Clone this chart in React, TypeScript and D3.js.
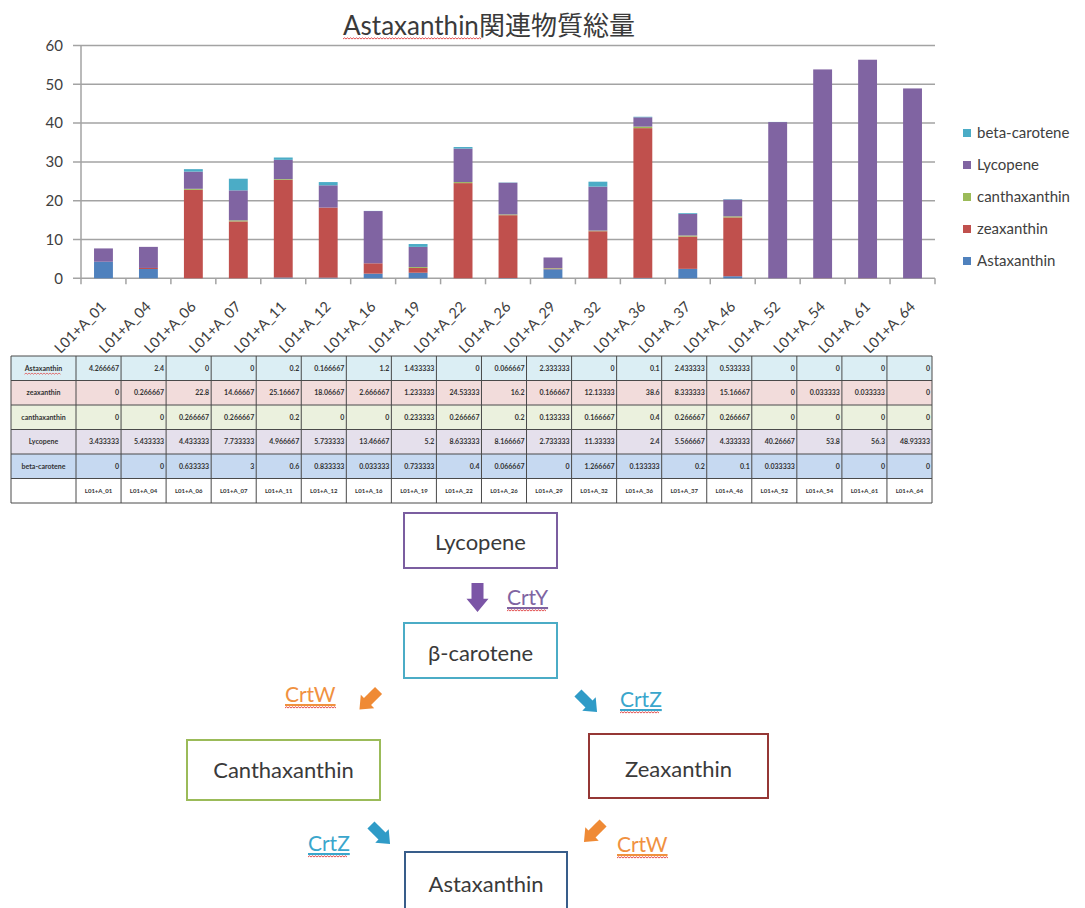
import React from "react";
import * as d3 from "d3";

// Sample (strain) names shown along the x axis and in the table footer row
const samples = [
  "L01+A_01", "L01+A_04", "L01+A_06", "L01+A_07", "L01+A_11", "L01+A_12", "L01+A_16",
  "L01+A_19", "L01+A_22", "L01+A_26", "L01+A_29", "L01+A_32", "L01+A_36", "L01+A_37",
  "L01+A_46", "L01+A_52", "L01+A_54", "L01+A_61", "L01+A_64",
];

// Measured carotenoid amounts per sample
const astaxanthin = [4.266667, 2.4, 0, 0, 0.2, 0.166667, 1.2, 1.433333, 0, 0.066667, 2.333333, 0, 0.1, 2.433333, 0.533333, 0, 0, 0, 0];
const zeaxanthin = [0, 0.266667, 22.8, 14.66667, 25.16667, 18.06667, 2.666667, 1.233333, 24.53333, 16.2, 0.166667, 12.13333, 38.6, 8.333333, 15.16667, 0, 0.033333, 0.033333, 0];
const canthaxanthin = [0, 0, 0.266667, 0.266667, 0.2, 0, 0, 0.233333, 0.266667, 0.2, 0.133333, 0.166667, 0.4, 0.266667, 0.266667, 0, 0, 0, 0];
const lycopene = [3.433333, 5.433333, 4.433333, 7.733333, 4.966667, 5.733333, 13.46667, 5.2, 8.633333, 8.166667, 2.733333, 11.33333, 2.4, 5.566667, 4.333333, 40.26667, 53.8, 56.3, 48.93333];
const betaCarotene = [0, 0, 0.633333, 3, 0.6, 0.833333, 0.033333, 0.733333, 0.4, 0.066667, 0, 1.266667, 0.133333, 0.2, 0.1, 0.033333, 0, 0, 0];

// Series in stacking order (bottom to top)
const seriesNames = ["Astaxanthin", "zeaxanthin", "canthaxanthin", "Lycopene", "beta-carotene"];
const seriesValues = [astaxanthin, zeaxanthin, canthaxanthin, lycopene, betaCarotene];
const yTicks = [0, 10, 20, 30, 40, 50, 60];

// Biosynthesis pathway
const pathwayCompounds = ["Lycopene", "β-carotene", "Canthaxanthin", "Zeaxanthin", "Astaxanthin"];
const enzymes = ["CrtY", "CrtW", "CrtZ", "CrtZ", "CrtW"];

const titleText = "Astaxanthin関連物質総量";

// ---- styling ----
const FONT = "Lato, 'Noto Sans CJK JP', sans-serif";
const seriesColors = ["#4f81bd", "#c0504d", "#9bbb59", "#8064a2", "#4bacc6"];
const rowFills = ["#dbeef4", "#f2dcdb", "#ebf1de", "#e5e0ec", "#c6d9f1"];
const gridColor = "#a3a3a3";
const textColor = "#404040";

// ---- layout ----
const plot = { left: 81, right: 935, top: 45.5, bottom: 278.3 };
const table = { left: 11, headRight: 76, right: 932, top: 356, rowH: 24.5 };

const boxLayout = [
  { x: 404, y: 513, w: 153, h: 55, base: 550, stroke: "#7b5ea0" },
  { x: 404, y: 623, w: 153, h: 55, base: 661, stroke: "#4bacc6" },
  { x: 187, y: 740, w: 193, h: 60, base: 778, stroke: "#9bbb59" },
  { x: 589, y: 734, w: 179, h: 64, base: 777, stroke: "#953735" },
  { x: 405, y: 852, w: 162, h: 80, base: 892, stroke: "#385d8a" },
];
const arrowLayout = [
  { cx: 477.5, cy: 597.5, rot: 0, len: 29, shaft: 12, head: 22, color: "#7b55a6" },
  { cx: 369, cy: 700, rot: 45, len: 27, shaft: 10, head: 19, color: "#ef8a35" },
  { cx: 587.5, cy: 702.5, rot: -45, len: 27, shaft: 10, head: 19, color: "#2f9bc7" },
  { cx: 380.5, cy: 834.5, rot: -45, len: 27, shaft: 10, head: 19, color: "#2f9bc7" },
  { cx: 593.5, cy: 832.5, rot: 45, len: 27, shaft: 10, head: 19, color: "#ef8a35" },
];
const enzymeLayout = [
  { x: 507, y: 605, color: "#8064a2" },
  { x: 285, y: 702, color: "#f0913f" },
  { x: 620, y: 707, color: "#3aa6cc" },
  { x: 308, y: 851, color: "#3aa6cc" },
  { x: 617, y: 852, color: "#f0913f" },
];

// spell-check style wavy underline
function squiggle(x0: number, x1: number, y: number) {
  let d = `M${x0},${y}`;
  for (let x = x0; x + 3 <= x1; x += 3) d += " l1.5,-1.2 l1.5,1.2";
  return d;
}

// block arrow pointing down, centred on the origin
function blockArrow(len: number, shaft: number, head: number) {
  const h = len / 2;
  const headLen = head * 0.6;
  const s = shaft / 2;
  const hw = head / 2;
  return `M${-s},${-h} L${s},${-h} L${s},${h - headLen} L${hw},${h - headLen} L0,${h} L${-hw},${h - headLen} L${-s},${h - headLen} Z`;
}

export default function App() {
  const rows = samples.map((name, i) => {
    const r: Record<string, any> = { name };
    seriesNames.forEach((s, k) => (r[s] = seriesValues[k][i]));
    return r;
  });
  const stacked = d3.stack<any>().keys(seriesNames)(rows);

  const x = d3
    .scaleBand<string>()
    .domain(samples)
    .range([plot.left, plot.right])
    .paddingInner(0.58)
    .paddingOuter(0.29);
  const step = x.step();
  const y = d3.scaleLinear().domain([0, 60]).range([plot.bottom, plot.top]);

  const col = d3.scaleBand<string>().domain(samples).range([table.headRight, table.right]);
  const rowY = (k: number) => table.top + k * table.rowH;

  const legendItems = seriesNames.map((n, k) => ({ n, c: seriesColors[k] })).reverse();

  return (
    <svg
      width={1085}
      height={908}
      style={{ position: "absolute", left: 0, top: 0, background: "#fff" }}
      fontFamily={FONT}
    >
      <rect width={1085} height={908} fill="#fff" />

      {/* title */}
      <text x={343} y={35} fontSize={26} fill="#3a3a3a">
        {titleText}
      </text>
      <path d={squiggle(343, 482, 39)} fill="none" stroke="#e04040" strokeWidth={0.9} />

      {/* gridlines and y axis */}
      {yTicks.map((t) => (
        <g key={t}>
          <line x1={plot.left - 8} x2={plot.right} y1={y(t)} y2={y(t)} stroke={gridColor} strokeWidth={1.5} />
          <text x={63} y={y(t)} dy="0.35em" textAnchor="end" fontSize={15} fill={textColor}>
            {t}
          </text>
        </g>
      ))}
      <line x1={plot.left} x2={plot.left} y1={plot.top} y2={plot.bottom} stroke={gridColor} strokeWidth={1.5} />
      {d3.range(samples.length + 1).map((i) => (
        <line
          key={i}
          x1={plot.left + i * step}
          x2={plot.left + i * step}
          y1={plot.bottom}
          y2={plot.bottom + 6}
          stroke={gridColor}
          strokeWidth={1.5}
        />
      ))}

      {/* stacked bars */}
      {stacked.map((layer, k) => (
        <g key={layer.key} fill={seriesColors[k]}>
          {layer.map((d, i) => (
            <rect
              key={i}
              x={x(samples[i])}
              width={x.bandwidth()}
              y={y(d[1])}
              height={Math.max(0, y(d[0]) - y(d[1]))}
            />
          ))}
        </g>
      ))}

      {/* x labels */}
      {samples.map((s) => {
        const cx = (x(s) as number) + x.bandwidth() / 2;
        return (
          <text
            key={s}
            transform={`translate(${cx},${304}) rotate(-45)`}
            textAnchor="end"
            dy="0.35em"
            fontSize={14.5}
            fill={textColor}
          >
            {s}
          </text>
        );
      })}

      {/* legend */}
      {legendItems.map((it, i) => (
        <g key={it.n} transform={`translate(963,${133 + i * 32})`}>
          <rect x={0} y={-4} width={8} height={8} fill={it.c} />
          <text x={14} y={0} dy="0.35em" fontSize={15} fill={textColor}>
            {it.n}
          </text>
        </g>
      ))}

      {/* data table */}
      <g fontSize={7} fontWeight="bold" fill="#333">
        {seriesNames.map((n, k) => (
          <g key={n}>
            <rect x={table.left} y={rowY(k)} width={table.right - table.left} height={table.rowH} fill={rowFills[k]} />
            <text x={(table.left + table.headRight) / 2} y={rowY(k) + table.rowH / 2} dy="0.35em" textAnchor="middle">
              {n}
            </text>
            {seriesValues[k].map((v, i) => (
              <text
                key={i}
                x={(col(samples[i]) as number) + col.bandwidth() - 2}
                y={rowY(k) + table.rowH / 2}
                dy="0.35em"
                textAnchor="end"
              >
                {String(v)}
              </text>
            ))}
          </g>
        ))}
        {samples.map((s) => (
          <text
            key={s}
            x={(col(s) as number) + col.bandwidth() / 2}
            y={rowY(5) + table.rowH / 2}
            dy="0.35em"
            textAnchor="middle"
            fontSize={6}
          >
            {s}
          </text>
        ))}
        <path
          d={squiggle((table.left + table.headRight) / 2 - 19, (table.left + table.headRight) / 2 + 19, rowY(0) + table.rowH / 2 + 6)}
          fill="none"
          stroke="#e04040"
          strokeWidth={0.7}
        />
        {/* grid lines */}
        {d3.range(7).map((k) => (
          <line key={"h" + k} x1={table.left} x2={table.right} y1={rowY(k)} y2={rowY(k)} stroke="#4a4a4a" strokeWidth={1} />
        ))}
        <line x1={table.left} x2={table.left} y1={rowY(0)} y2={rowY(6)} stroke="#4a4a4a" strokeWidth={1} />
        {d3.range(samples.length + 1).map((i) => {
          const xx = table.headRight + i * col.step();
          return <line key={"v" + i} x1={xx} x2={xx} y1={rowY(0)} y2={rowY(6)} stroke="#4a4a4a" strokeWidth={1} />;
        })}
      </g>

      {/* pathway boxes */}
      {pathwayCompounds.map((c, i) => {
        const b = boxLayout[i];
        return (
          <g key={c}>
            <rect x={b.x} y={b.y} width={b.w} height={b.h} fill="#fff" stroke={b.stroke} strokeWidth={2} />
            <text x={b.x + b.w / 2} y={b.base} textAnchor="middle" fontSize={22} fill="#3a3a3a">
              {c}
            </text>
          </g>
        );
      })}

      {/* enzyme arrows */}
      {arrowLayout.map((a, i) => (
        <path
          key={i}
          transform={`translate(${a.cx},${a.cy}) rotate(${a.rot})`}
          d={blockArrow(a.len, a.shaft, a.head)}
          fill={a.color}
        />
      ))}

      {/* enzyme labels */}
      {enzymes.map((e, i) => {
        const l = enzymeLayout[i];
        const w = e === "CrtW" ? 52 : 41;
        return (
          <g key={i}>
            <text x={l.x} y={l.y} fontSize={21} fill={l.color} textDecoration="underline">
              {e}
            </text>
            <path d={squiggle(l.x, l.x + w, l.y + 6)} fill="none" stroke="#e04040" strokeWidth={0.9} />
          </g>
        );
      })}
    </svg>
  );
}
